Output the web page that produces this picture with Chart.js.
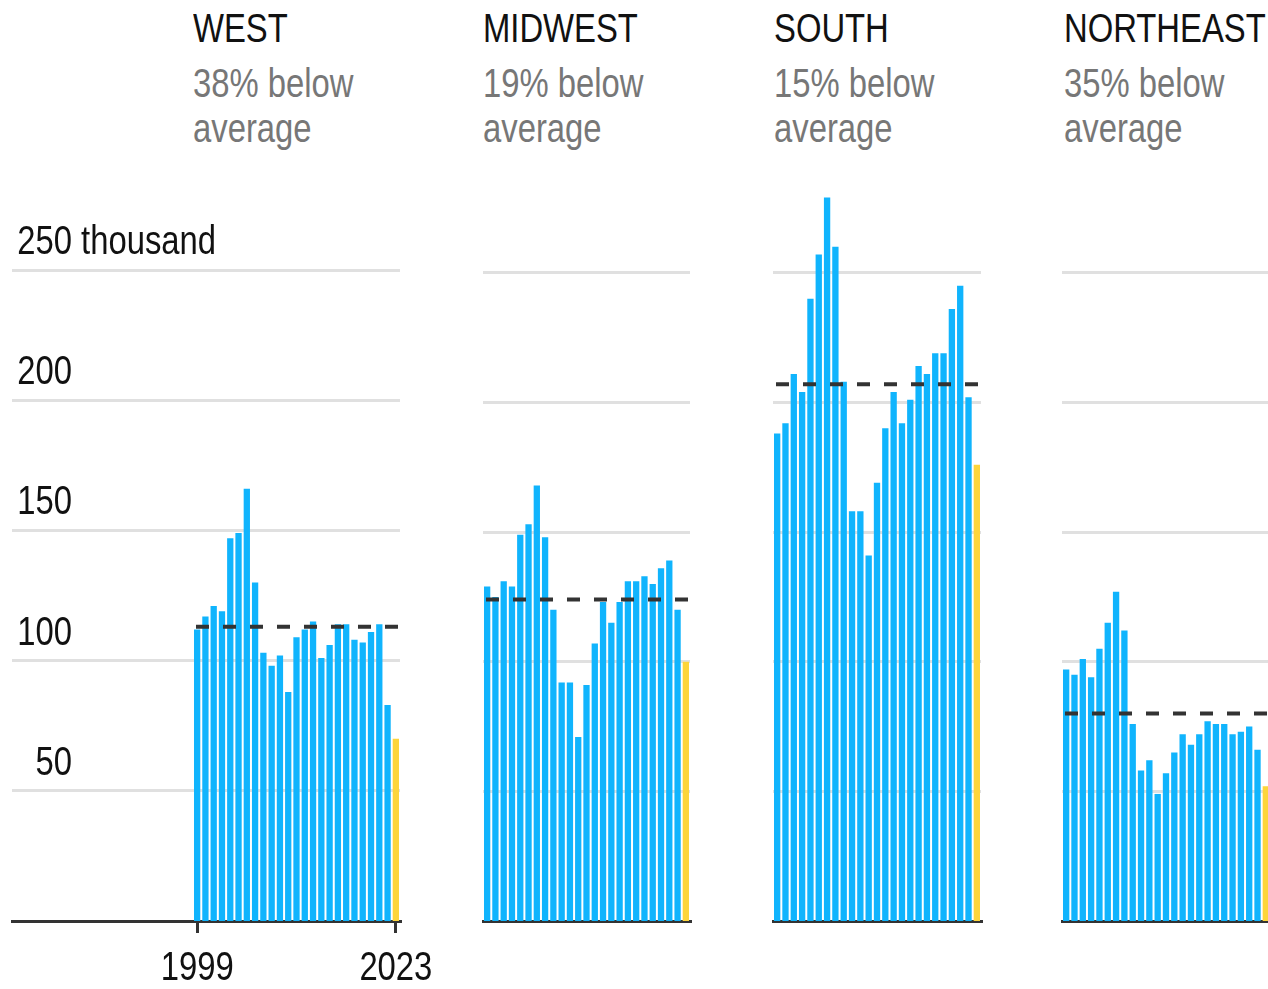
<!DOCTYPE html>
<html>
<head>
<meta charset="utf-8">
<script src="https://cdn.jsdelivr.net/npm/chart.js@4.4.0/dist/chart.umd.min.js"></script>
<style>
  html, body { margin: 0; padding: 0; background: #fff; overflow: hidden; }
  body { width: 1268px; height: 989px; position: relative; font-family: "Liberation Sans", Arial, sans-serif; }
  canvas { position: absolute; top: 0; }
  .head { position: absolute; top: 4px; transform: scaleX(0.82); transform-origin: left top; white-space: nowrap; }
  .title { font-size: 40px; line-height: 48px; color: #111; }
  .sub { font-size: 40px; line-height: 45px; color: #777; margin-top: 9px; }
</style>
</head>
<body>
<div class="head" style="left:193px"><div class="title">WEST</div><div class="sub">38% below<br>average</div></div>
<div class="head" style="left:483px"><div class="title">MIDWEST</div><div class="sub">19% below<br>average</div></div>
<div class="head" style="left:774px"><div class="title">SOUTH</div><div class="sub">15% below<br>average</div></div>
<div class="head" style="left:1064px"><div class="title">NORTHEAST</div><div class="sub">35% below<br>average</div></div>

<canvas id="west" width="440" height="989" style="left:0px"></canvas>
<canvas id="midwest" width="240" height="989" style="left:470px"></canvas>
<canvas id="south" width="240" height="989" style="left:760px"></canvas>
<canvas id="northeast" width="240" height="989" style="left:1050px"></canvas>

<script>
// ---------------- data (thousands) ----------------
const years = [1999, 2000, 2001, 2002, 2003, 2004, 2005, 2006, 2007, 2008, 2009, 2010, 2011,
  2012, 2013, 2014, 2015, 2016, 2017, 2018, 2019, 2020, 2021, 2022, 2023];
const west = [112, 117, 121, 119, 147, 149, 166, 130, 103, 98, 102, 88, 109, 112, 115, 101, 106, 114, 114, 108, 107, 111, 114, 83, 70];
const midwest = [129, 125, 131, 129, 149, 153, 168, 148, 120, 92, 92, 71, 91, 107, 123, 115, 123, 131, 131, 133, 130, 136, 139, 120, 100];
const south = [188, 192, 211, 204, 240, 257, 279, 260, 208, 158, 158, 141, 169, 190, 204, 192, 201, 214, 211, 219, 219, 236, 245, 202, 176];
const northeast = [97, 95, 101, 94, 105, 115, 127, 112, 76, 58, 62, 49, 57, 65, 72, 68, 72, 77, 76, 76, 72, 73, 75, 66, 52];
const averages = [113, 124, 207, 80];
const yTicks = [50, 100, 150, 200, 250];
const xTickYears = [1999, 2023];

const BLUE = "#10b4fd";
const YELLOW = "#fdd53b";
const FONT = '"Liberation Sans", Arial, sans-serif';
const SQUEEZE = 0.82; // narrow look of the original type

function narrowText(ctx, text, x, y, align) {
  ctx.save();
  ctx.translate(x, y);
  ctx.scale(SQUEEZE, 1);
  ctx.textAlign = align;
  ctx.fillText(text, 0, 0);
  ctx.restore();
}

// dashed average line across the bars
const avgLine = {
  id: "avgLine",
  afterDatasetsDraw(chart, args, opts) {
    const meta = chart.getDatasetMeta(0);
    const first = meta.data[0], last = meta.data[meta.data.length - 1];
    const y = chart.scales.y.getPixelForValue(opts.value);
    const ctx = chart.ctx;
    ctx.save();
    ctx.strokeStyle = "#333";
    ctx.lineWidth = 4;
    ctx.setLineDash([13, 14]);
    ctx.beginPath();
    ctx.moveTo(first.x - first.width / 2 + 2, y);
    ctx.lineTo(last.x + last.width / 2, y);
    ctx.stroke();
    ctx.restore();
  }
};

// value labels above the gridlines and the two year labels (west panel only)
const axisText = {
  id: "axisText",
  afterDraw(chart) {
    const ctx = chart.ctx;
    const sy = chart.scales.y, sx = chart.scales.x;
    ctx.save();
    ctx.font = "40px " + FONT;
    ctx.fillStyle = "#111";
    ctx.textBaseline = "alphabetic";
    yTicks.forEach((v) => {
      const y = sy.getPixelForValue(v) - 16;
      narrowText(ctx, String(v), 72, y, "right");
      if (v === yTicks[yTicks.length - 1]) narrowText(ctx, " thousand", 72, y, "left");
    });
    xTickYears.forEach((yr) => {
      narrowText(ctx, String(yr), sx.getPixelForValue(yr), chart.chartArea.bottom + 59, "center");
    });
    ctx.restore();
  }
};

function makeChart(id, values, avg, opt) {
  const data = {
    labels: years,
    datasets: [{
      data: values.map((v, i) => ({ x: years[i], y: v })),
      backgroundColor: years.map((y) => (y === 2023 ? YELLOW : BLUE)),
      borderWidth: 0,
      barPercentage: 0.76,
      categoryPercentage: 1,
    }],
  };
  const options = {
    responsive: false,
    devicePixelRatio: 1,
    animation: false,
    layout: { padding: { left: opt.left, right: opt.right, top: opt.top, bottom: 0 } },
    plugins: { legend: { display: false }, tooltip: { enabled: false }, avgLine: { value: avg } },
    scales: {
      x: {
        type: "linear",
        min: opt.xMin,
        max: 2023.5,
        offset: false,
        z: 2,
        afterBuildTicks: (s) => { s.ticks = opt.showYears ? xTickYears.map((v) => ({ value: v })) : []; },
        afterFit: (s) => { s.height = 68; },
        border: { display: true, color: "#333", width: 3 },
        grid: { display: opt.showYears, drawOnChartArea: false, drawTicks: true, tickLength: 12, lineWidth: 3, color: "#333", offset: false },
        ticks: { display: false },
      },
      y: {
        min: 0,
        max: 285,
        z: 1,
        afterBuildTicks: (s) => { s.ticks = yTicks.map((v) => ({ value: v })); },
        afterFit: (s) => { s.width = 0; },
        border: { display: false },
        grid: { color: "rgba(0,0,0,0.12)", lineWidth: 3, drawTicks: false },
        ticks: { display: false },
      },
    },
  };
  return new Chart(document.getElementById(id), {
    type: "bar",
    data: data,
    options: options,
    plugins: opt.showYears ? [avgLine, axisText] : [avgLine],
  });
}

var chartWest = makeChart("west", west, averages[0], { left: 12, right: 40, top: 179, xMin: 1976.64, showYears: true });
var chartMidwest = makeChart("midwest", midwest, averages[1], { left: 13, right: 20, top: 182, xMin: 1998.5, showYears: false });
var chartSouth = makeChart("south", south, averages[2], { left: 13, right: 19, top: 182, xMin: 1998.5, showYears: false });
var chartNortheast = makeChart("northeast", northeast, averages[3], { left: 12, right: 20, top: 182, xMin: 1998.5, showYears: false });
</script>
</body>
</html>
